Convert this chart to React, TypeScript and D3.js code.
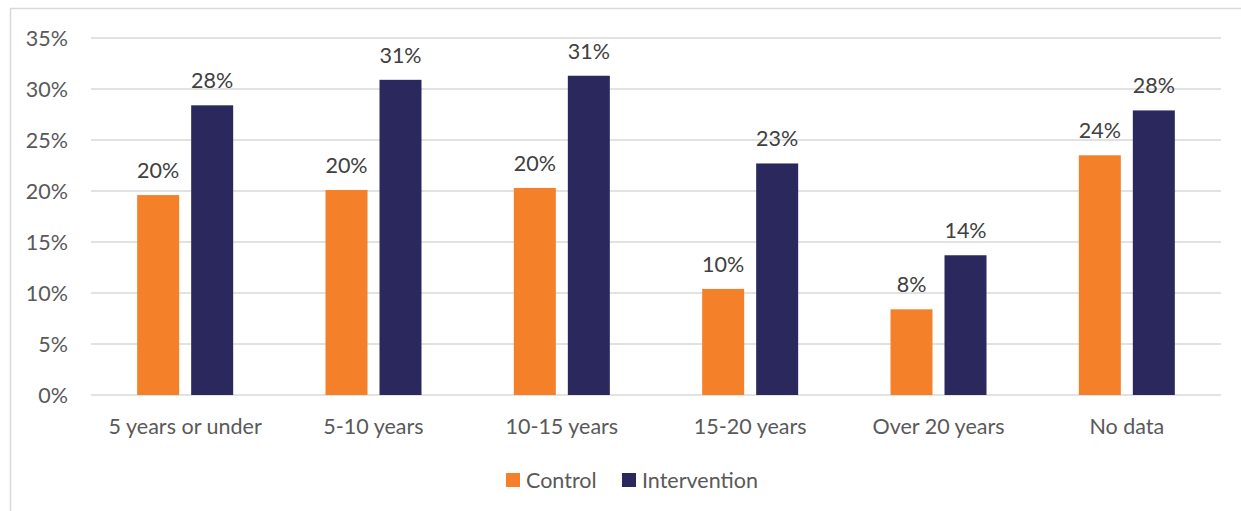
import React from "react";
import * as d3 from "d3";

const categories = ["5 years or under", "5-10 years", "10-15 years", "15-20 years", "Over 20 years", "No data"];
const controlValues = [19.6, 20.1, 20.3, 10.4, 8.4, 23.5];
const interventionValues = [28.4, 30.9, 31.3, 22.7, 13.7, 27.9];
const yTicks = [0, 5, 10, 15, 20, 25, 30, 35];
const seriesNames = ["Control", "Intervention"];
const seriesColors = ["#F4812A", "#2B285E"];

const W = 1241;
const H = 511;
const margin = { left: 91, right: 20, top: 38, bottom: 116 };
const FONT = "Lato, 'Open Sans', sans-serif";
const FS = 21.5;

export default function App() {
  const x0 = d3
    .scaleBand<string>()
    .domain(categories)
    .range([margin.left, W - margin.right])
    .paddingInner(0)
    .paddingOuter(0);
  const y = d3.scaleLinear().domain([0, 35]).range([H - margin.bottom, margin.top]);
  const barW = 42;
  const gap = 12;
  const series = [controlValues, interventionValues];

  return (
    <svg
      width={W}
      height={H}
      style={{ position: "absolute", left: 0, top: 0, background: "#fff" }}
      fontFamily={FONT}
    >
      <rect x={10.5} y={8.5} width={W} height={H} fill="none" stroke="#D9D9D9" strokeWidth={1.5} />
      {yTicks.map((t) => (
        <g key={t}>
          <line x1={margin.left} x2={W - margin.right} y1={y(t)} y2={y(t)} stroke="#D9D9D9" strokeWidth={1.5} />
          <text x={68} y={y(t)} dy="0.35em" textAnchor="end" fontSize={FS} fill="#595959">
            {t}%
          </text>
        </g>
      ))}
      {categories.map((c, i) => {
        const cx = x0(c)! + x0.bandwidth() / 2;
        return (
          <g key={c}>
            {series.map((vals, s) => {
              const bx = s === 0 ? cx - gap / 2 - barW : cx + gap / 2;
              const v = vals[i];
              return (
                <g key={s}>
                  <rect x={bx} y={y(v)} width={barW} height={y(0) - y(v)} fill={seriesColors[s]} />
                  <text x={bx + barW / 2} y={y(v) - 17} textAnchor="middle" fontSize={FS} fill="#404040">
                    {Math.round(v)}%
                  </text>
                </g>
              );
            })}
            <text x={cx} y={434} textAnchor="middle" fontSize={FS} fill="#595959">
              {c}
            </text>
          </g>
        );
      })}
      {seriesNames.map((n, s) => {
        const lx = s === 0 ? 506 : 622;
        return (
          <g key={n}>
            <rect x={lx} y={473} width={14} height={14} fill={seriesColors[s]} />
            <text x={lx + 20} y={480} dy="0.35em" fontSize={FS} fill="#595959">
              {n}
            </text>
          </g>
        );
      })}
    </svg>
  );
}
